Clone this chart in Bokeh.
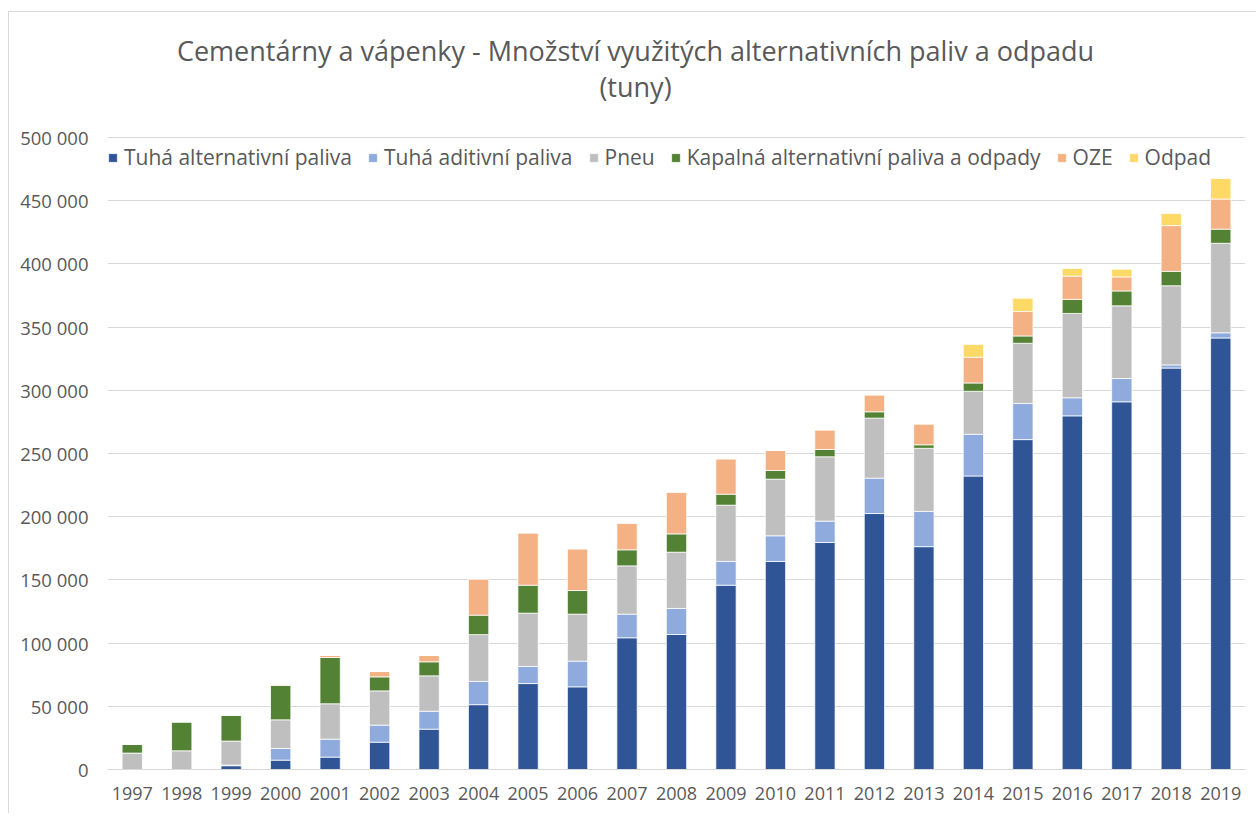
from bokeh.plotting import figure
from bokeh.models import (ColumnDataSource, Range1d, FixedTicker, CustomJSTickFormatter,
                          Legend, LegendItem, Label, FactorRange)
from bokeh.embed import file_html
from bokeh.resources import INLINE

years = [str(y) for y in range(1997, 2020)]
tuha_alt = [0, 0, 3000, 7400, 9800, 21600, 31900, 51300, 68000, 65400, 104200, 106800,
            145800, 164600, 179600, 202500, 176300, 232200, 261000, 279800, 290900, 317600, 341400]
tuha_adit = [0, 0, 500, 9200, 14200, 13500, 14200, 18400, 13500, 20300, 18700, 20600,
             18800, 20300, 16900, 28000, 27900, 33000, 28600, 14300, 18400, 2500, 4100]
pneu = [13000, 14800, 19000, 22700, 28000, 27100, 28000, 37000, 42200, 37200, 38200, 44500,
        44500, 44800, 50900, 47500, 49900, 34000, 47600, 66700, 57500, 62600, 70800]
kapalna = [6800, 22900, 20500, 27200, 36600, 11100, 11100, 15400, 22100, 18700, 12700, 14500,
           8700, 6900, 5800, 5000, 2800, 6600, 5800, 11100, 11800, 11400, 11200]
oze = [0, 0, 0, 1000, 1600, 4200, 5000, 28700, 41400, 33000, 21100, 33000,
       28000, 15800, 15500, 13400, 16500, 20300, 19400, 18400, 11100, 36200, 23800]
odpad = [0, 0, 0, 0, 0, 0, 0, 0, 0, 0, 0, 0,
         0, 0, 0, 0, 0, 10200, 10400, 6000, 6100, 9500, 16200]

series_keys = ["tuha_alt", "tuha_adit", "pneu", "kapalna", "oze", "odpad"]
series_labels = ["Tuhá alternativní paliva", "Tuhá aditivní paliva", "Pneu",
                 "Kapalná alternativní paliva a odpady", "OZE", "Odpad"]
colors = ["#2F5597", "#8FAADC", "#BFBFBF", "#548235", "#F4B183", "#FFD966"]
y_ticks = list(range(0, 500001, 50000))
title_line1 = "Cementárny a vápenky - Množství využitých alternativních paliv a odpadu"
title_line2 = "(tuny)"

source = ColumnDataSource(dict(years=years, tuha_alt=tuha_alt, tuha_adit=tuha_adit, pneu=pneu,
                               kapalna=kapalna, oze=oze, odpad=odpad))

FONT = "Open Sans"
TXT = "#595959"
GRID = "#D9D9D9"

# value axis: 0..500 000 occupies 632 px; the frame is extended 117 px upwards
# so that the two title lines (drawn as labels) sit inside it
AXIS_PX = 632
EXTRA_PX = 117
Y_MAX = 500000
y_end = Y_MAX * (AXIS_PX + EXTRA_PX) / AXIS_PX

p = figure(x_range=FactorRange(*years), y_range=Range1d(0, y_end),
           width=1248, height=802, output_backend="svg", toolbar_location=None,
           title=None, min_border_left=98, min_border_right=12,
           min_border_top=8, min_border_bottom=45)
p.outline_line_color = None
p.background_fill_color = "white"
p.border_fill_color = "white"

renderers = p.vbar_stack(series_keys, x="years", width=0.41, color=colors, source=source,
                         line_color="white", line_width=0.75)

# title (two centred lines; screen units measured from the frame's bottom-left)
p.add_layout(Label(text=title_line1, x=528, y=719, x_units="screen", y_units="screen",
                   text_align="center", text_baseline="alphabetic", text_font=FONT,
                   text_font_size="27px", text_color=TXT))
p.add_layout(Label(text=title_line2, x=528, y=683, x_units="screen", y_units="screen",
                   text_align="center", text_baseline="alphabetic", text_font=FONT,
                   text_font_size="27px", text_color=TXT))

# axes
p.yaxis.ticker = FixedTicker(ticks=y_ticks)
p.yaxis.formatter = CustomJSTickFormatter(code="""
    return Math.round(tick).toString().replace(/\\B(?=(\\d{3})+(?!\\d))/g, ' ');
""")
p.yaxis.axis_line_color = None
p.yaxis.major_tick_line_color = None
p.yaxis.minor_tick_line_color = None
p.yaxis.major_tick_out = 0
p.yaxis.major_label_standoff = 19
p.yaxis.major_label_text_font = FONT
p.yaxis.major_label_text_font_size = "18.5px"
p.yaxis.major_label_text_color = TXT

p.xaxis.axis_line_color = GRID
p.xaxis.axis_line_width = 1
p.xaxis.major_tick_line_color = None
p.xaxis.minor_tick_line_color = None
p.xaxis.major_tick_out = 0
p.xaxis.major_label_standoff = 17
p.xaxis.major_label_text_font = FONT
p.xaxis.major_label_text_font_size = "18px"
p.xaxis.major_label_text_color = TXT

p.xgrid.grid_line_color = None
p.ygrid.grid_line_color = GRID
p.ygrid.grid_line_width = 1

legend = Legend(items=[LegendItem(label=l, renderers=[r]) for l, r in zip(series_labels, renderers)],
                orientation="horizontal", location=(0, 598),
                label_text_font=FONT, label_text_font_size="21px", label_text_color=TXT,
                glyph_width=11, glyph_height=11, label_standoff=6, spacing=15,
                padding=0, margin=0, label_height=24,
                background_fill_alpha=0, border_line_alpha=0)
p.add_layout(legend)

p.styles = {"margin-left": "8px", "margin-top": "11px",
            "border-left": "1px solid #D9D9D9", "border-top": "1px solid #D9D9D9"}

open("out.html", "w").write(file_html(p, INLINE))
